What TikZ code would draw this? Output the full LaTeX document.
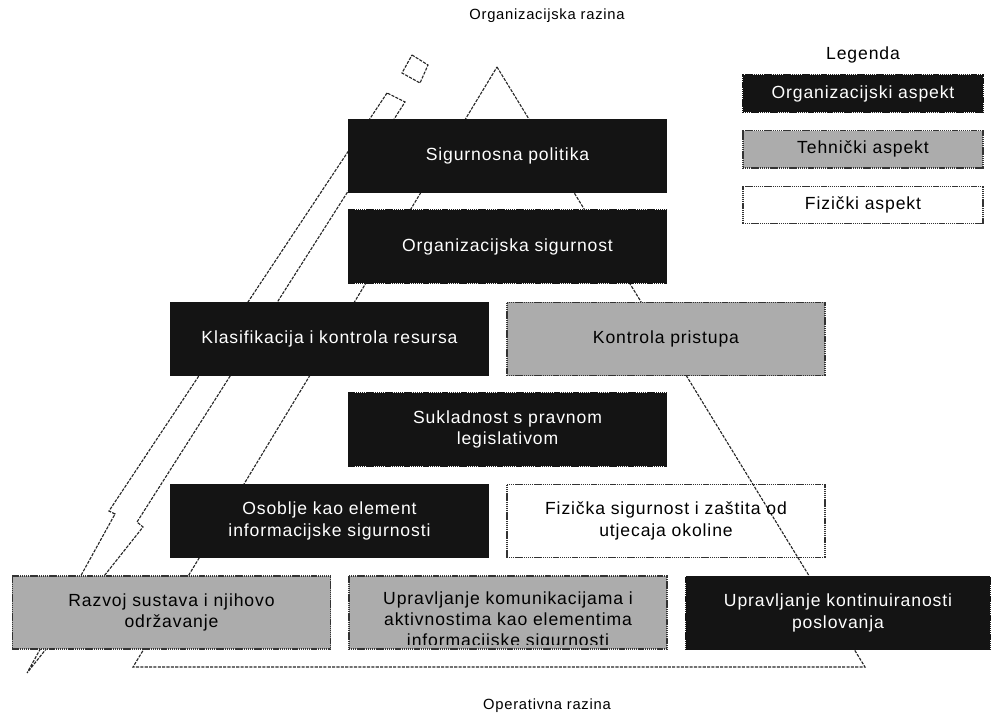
\documentclass[tikz,border=0pt]{standalone}
\usepackage{fontspec}
\setmainfont{Liberation Sans}[LetterSpace=5]
\usetikzlibrary{positioning}
\definecolor{orgfill}{HTML}{141414}
\definecolor{techfill}{HTML}{ACACAC}

\begin{document}
\begin{tikzpicture}[x=0.025cm,y=-0.025cm,
    tier/.style={draw=black!80,line width=1.1pt,dash pattern=on 0.9pt off 0.45pt,align=center,minimum width=7.95cm,minimum height=1.83cm,inner sep=2pt,font=\fontsize{12.5}{15.5}\selectfont},
    org/.style={tier,fill=orgfill,draw=orgfill,text=white},
    tech/.style={tier,fill=techfill},
    phys/.style={tier},
    legbox/.style={minimum width=6cm,minimum height=0.93cm},
    outline/.style={draw=black!85,dash pattern=on 2.2pt off 0.9pt,line width=0.8pt}]
    \useasboundingbox (0,0) rectangle (992,721);
    \coordinate (apex) at (497,67);
    \coordinate (bl) at (133,667);
    \coordinate (br) at (865,667);
    \draw[outline] (apex) -- (br) -- (bl) -- cycle;
    \coordinate (tl) at (387,93);
    \coordinate (tr) at (405,102);
    \coordinate (la) at (109,511);
    \coordinate (lb) at (115,514);
    \coordinate (ra) at (137,522);
    \coordinate (rb) at (143,527);
    \coordinate (tip) at (27,673);
    \draw[outline,fill=white] (tl) -- (la) -- (lb) -- (tip) -- (rb) -- (ra) -- (tr) -- cycle;
    \draw[outline] (412,55) -- (428,65) -- (420,83) -- (402,73) -- cycle;
    \node[org] (polit) at (507.5,156) {Sigurnosna politika};
    \node[org] (orgsig) at (507.5,246.5) {Organizacijska sigurnost};
    \node[org] (klas) at (329.5,339) {Klasifikacija i kontrola resursa};
    \node[tech] (pristup) at (666,339) {Kontrola pristupa};
    \node[org] (sukl) at (507.5,429.5) {Sukladnost s pravnom\\legislativom};
    \node[org] (osob) at (329.5,521) {Osoblje kao element\\informacijske sigurnosti};
    \node[phys] (fizic) at (666,521) {Fizička sigurnost i zaštita od\\utjecaja okoline};
    \node[tech] (razvoj) at (171.5,612.5) {Razvoj sustava i njihovo\\održavanje};
    \node[tech] (komun) at (508,612.5) {};
    \begin{scope}
      \clip (komun.south west) ++(0,-5) rectangle (komun.north east);
      \node[align=center,font=\fontsize{12.5}{14.9}\selectfont] (komuntxt) at ([yshift=-5.8pt]komun.center) {Upravljanje komunikacijama i\\aktivnostima kao elementima\\informacijske sigurnosti};
    \end{scope}
    \node[org,minimum width=7.6cm] (kontin) at (838,613) {Upravljanje kontinuiranosti\\poslovanja};
    \node[font=\fontsize{12.5}{15}\selectfont] (leg) at (863,55) {Legenda};
    \node[org,legbox] (legorg) at (863,93.5) {Organizacijski aspekt};
    \node[tech,legbox,below=0.425cm of legorg] (legteh) {Tehnički aspekt};
    \node[phys,legbox,below=0.425cm of legteh] (legfiz) {Fizički aspekt};
    \node[font=\fontsize{10.5}{13}\selectfont] (toplvl) at (547,16) {Organizacijska razina};
    \node[font=\fontsize{10.5}{13}\selectfont] (botlvl) at (547,706) {Operativna razina};
\end{tikzpicture}
\end{document}
